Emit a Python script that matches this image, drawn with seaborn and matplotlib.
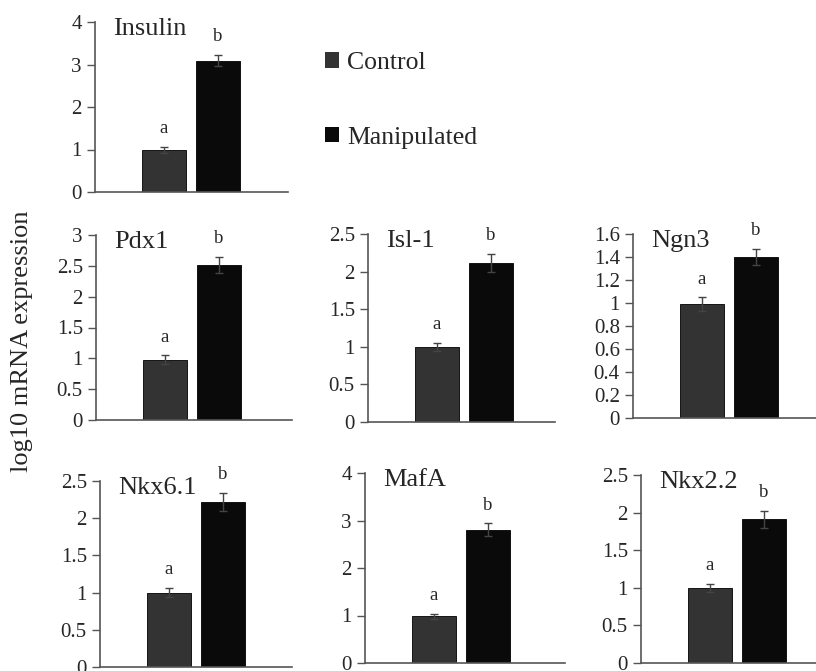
import numpy as np
import matplotlib
matplotlib.use("Agg")
import matplotlib.pyplot as plt
from matplotlib.patches import Patch
import seaborn as sns

# values
genes = ['Insulin', 'Pdx1', 'Isl-1', 'Ngn3', 'Nkx6.1', 'MafA', 'Nkx2.2']
groups = ['Control', 'Manipulated']
control_mean = [0.99, 0.98, 1.00, 0.99, 1.00, 0.98, 1.00]
control_err = [0.07, 0.07, 0.05, 0.06, 0.06, 0.05, 0.05]
manip_mean = [3.09, 2.51, 2.12, 1.40, 2.22, 2.81, 1.91]
manip_err = [0.13, 0.13, 0.12, 0.07, 0.12, 0.13, 0.11]
y_max = [4, 3, 2.5, 1.6, 2.5, 4, 2.5]
y_step = [1, 0.5, 0.5, 0.2, 0.5, 1, 0.5]
letters = ['a', 'b']

colors = ['#333333', '#0a0a0a']
axis_col = '#555555'

sns.set_style('ticks')
plt.rcParams['font.family'] = ['Liberation Serif', 'DejaVu Serif']

W, H = 816, 671
fig = plt.figure(figsize=(W / 100, H / 100), dpi=100)

# axes boxes in pixels: left, top, right, bottom
boxes = [(95, 22, 288, 192),
         (96, 235, 292, 420),
         (368, 234, 555, 422),
         (633, 234, 816, 418),
         (100, 481, 292, 667),
         (365, 473, 565, 663),
         (641, 475, 816, 663)]

x0_px, gap_px = 69, 54

for i, g in enumerate(genes):
    l, t, r, b = boxes[i]
    ax = fig.add_axes([l / W, 1 - b / H, (r - l) / W, (b - t) / H])
    vals = [control_mean[i], manip_mean[i]]
    errs = [control_err[i], manip_err[i]]
    sns.barplot(x=groups, y=vals, hue=groups, palette=colors, width=0.8,
                edgecolor='black', linewidth=0.6, legend=False, ax=ax)
    ax.errorbar([0, 1], vals, yerr=errs, fmt='none', ecolor='#444444',
                elinewidth=1, capsize=3, capthick=1)
    for j in range(2):
        ax.annotate(letters[j], (j, vals[j] + errs[j]), xytext=(0, 7),
                    textcoords='offset points', ha='center', va='bottom',
                    fontsize=13.5)
    ax.annotate(g, (0, 1), xycoords='axes fraction', xytext=(13, 3),
                textcoords='offset points', ha='left', va='top', fontsize=19)
    ax.set_xlim(-x0_px / gap_px, (r - l - x0_px) / gap_px)
    ax.set_ylim(0, y_max[i])
    ticks = np.arange(0, y_max[i] + y_step[i] / 2, y_step[i])
    ax.set_yticks(ticks)
    ax.set_yticklabels(['%g' % round(v, 2) for v in ticks], fontsize=15)
    ax.set_xticks([])
    ax.set_xlabel('')
    ax.set_ylabel('')
    sns.despine(ax=ax)
    for s in ['left', 'bottom']:
        ax.spines[s].set_color(axis_col)
        ax.spines[s].set_linewidth(1.2)
    ax.tick_params(axis='y', direction='out', length=5.5, width=1,
                   color=axis_col, pad=4)
    ax.set_facecolor('none')

handles = [Patch(facecolor=c, edgecolor='none') for c in colors]
fig.legend(handles, groups, loc='upper left',
           bbox_to_anchor=(325 / W, 1 - 52 / H), frameon=False, fontsize=18.5,
           handlelength=0.55, handleheight=0.55, handletextpad=0.3,
           labelspacing=2.05, borderpad=0, borderaxespad=0)

fig.text(22 / W, 1 - 341 / H, 'log10 mRNA expression', rotation=90,
         ha='center', va='center', fontsize=19)

fig.savefig('out.png', dpi=100)
